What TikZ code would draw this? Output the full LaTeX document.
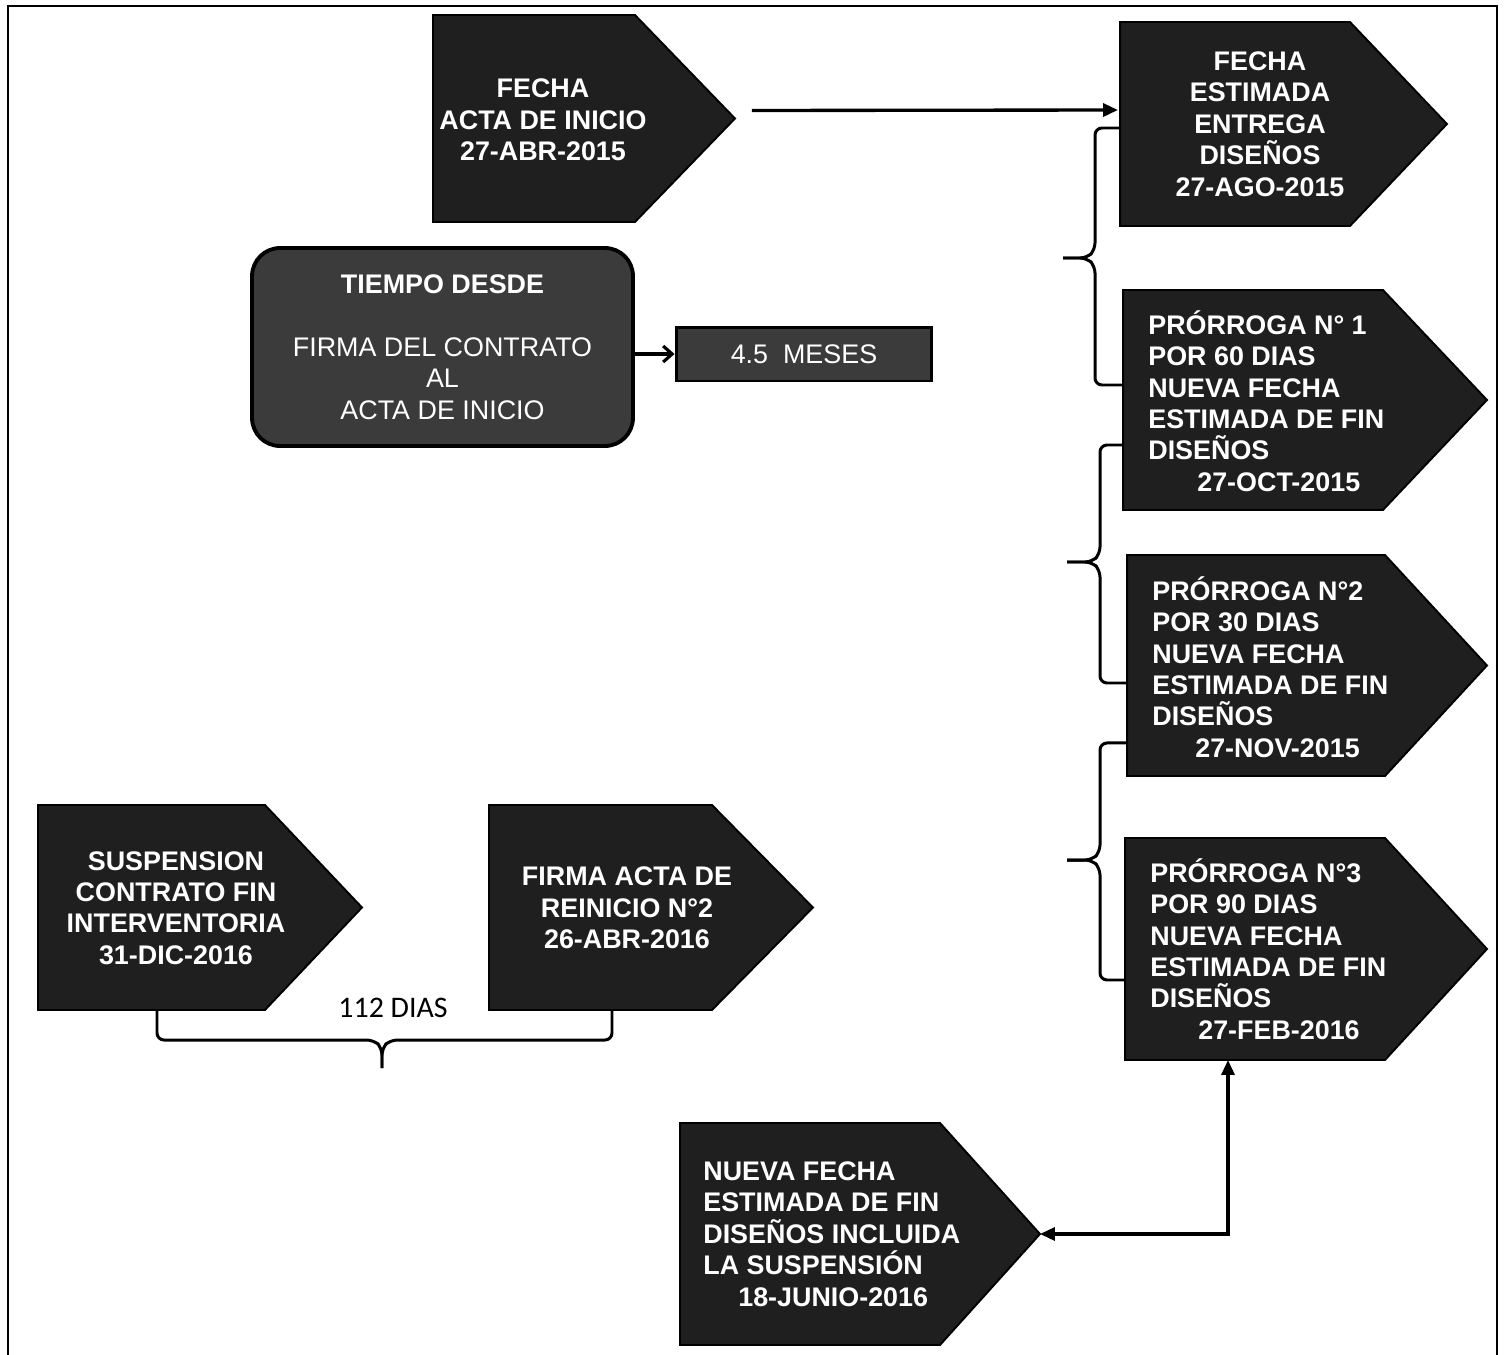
\documentclass[tikz,border=0pt]{standalone}
\usepackage{fontspec}
\setmainfont{Liberation Sans}
\newfontfamily\diasfont{Carlito}
\usepackage{tikz}
\usetikzlibrary{arrows.meta, calc}
\colorlet{cajanegra}{black!88}
\colorlet{cajagris}{black!77}

\tikzset{
  cuerpo/.style={rectangle, inner sep=0pt, outer sep=0pt},
  caja/.style={fill=cajanegra, draw=black, line width=1.1pt},
  texto/.style={text=white, align=center, inner sep=0pt, font=\bfseries\fontsize{15.3}{17.9}\selectfont},
  llave/.style={draw=black, line width=1.7pt, rounded corners=0.14cm},
  flecha/.style={draw=black, line width=1.9pt, -{Triangle[length=0.3cm,width=0.26cm]}},
}

\begin{document}
\begin{tikzpicture}[x=0.02cm, y=-0.02cm]
    \useasboundingbox (0,0) rectangle (1505,1355);
    \draw[line width=1.4pt] (8,1355) -- (8,6) -- (1497,6) -- (1497,1355);

    \node[cuerpo, minimum width=4.04cm, minimum height=4.14cm] (acta) at (534,118.5) {};
    \node[cuerpo, minimum width=4.6cm, minimum height=4.08cm] (entrega) at (1235,124) {};
    \node[cuerpo, minimum width=5.2cm, minimum height=4.4cm] (prorroga1) at (1253,400) {};
    \node[cuerpo, minimum width=5.16cm, minimum height=4.42cm] (prorroga2) at (1256,665.5) {};
    \node[cuerpo, minimum width=5.2cm, minimum height=4.44cm] (prorroga3) at (1255,949) {};
    \node[cuerpo, minimum width=4.54cm, minimum height=4.1cm] (suspension) at (151.5,907.5) {};
    \node[cuerpo, minimum width=4.46cm, minimum height=4.1cm] (reinicio) at (600.5,907.5) {};
    \node[cuerpo, minimum width=5.2cm, minimum height=4.44cm] (nueva) at (810,1234) {};

    \foreach \nombre/\punta in {acta/100, entrega/97, prorroga1/104, prorroga2/102, prorroga3/102, suspension/97, reinicio/101, nueva/100}
        \draw[caja] (\nombre.north west) -- (\nombre.north east) -- ($(\nombre.east)+(\punta,0)$) coordinate (\nombre-punta) -- (\nombre.south east) -- (\nombre.south west) -- cycle;

    \node[texto] (acta-txt) at (543,120) {FECHA\\ACTA DE INICIO\\27-ABR-2015};
    \node[texto] (entrega-txt) at (1260,124) {FECHA\\ESTIMADA\\ENTREGA\\DISEÑOS\\27-AGO-2015};
    \node[texto, align=left, anchor=west] (prorroga1-txt) at (1148,401) {PRÓRROGA N° 1\\POR 60 DIAS\\NUEVA FECHA\\ESTIMADA DE FIN\\DISEÑOS\\\hspace*{0.98cm}27-OCT-2015};
    \node[texto, align=left, anchor=west] (prorroga2-txt) at (1152,667) {PRÓRROGA N°2\\POR 30 DIAS\\NUEVA FECHA\\ESTIMADA DE FIN\\DISEÑOS\\\hspace*{0.86cm}27-NOV-2015};
    \node[texto, align=left, anchor=west] (prorroga3-txt) at (1150,949) {PRÓRROGA N°3\\POR 90 DIAS\\NUEVA FECHA\\ESTIMADA DE FIN\\DISEÑOS\\\hspace*{0.96cm}27-FEB-2016};
    \node[texto] (suspension-txt) at (176,908) {SUSPENSION\\CONTRATO FIN\\INTERVENTORIA\\31-DIC-2016};
    \node[texto] (reinicio-txt) at (627,908) {FIRMA ACTA DE\\REINICIO N°2\\26-ABR-2016};
    \node[texto, align=left, anchor=west] (nueva-txt) at (703,1234) {NUEVA FECHA\\ESTIMADA DE FIN\\DISEÑOS INCLUIDA\\LA SUSPENSIÓN\\\hspace*{0.7cm}18-JUNIO-2016};

    \node[fill=cajagris, draw=black, line width=2.2pt, rounded corners=0.56cm, minimum width=7.62cm, minimum height=3.96cm,
          text=white, align=center, font=\fontsize{15.3}{17.9}\selectfont] (tiempo) at (442.5,347)
          {\textbf{TIEMPO DESDE}\\[17.9pt]FIRMA DEL CONTRATO\\AL\\ACTA DE INICIO};
    \node[fill=cajagris, draw=black, line width=1.7pt, minimum width=5.12cm, minimum height=1.08cm,
          text=white, font=\fontsize{15.3}{17.9}\selectfont] (meses) at (804,354) {4.5\ \ MESES};

    \draw[line width=1.8pt, -{Straight Barb[length=0.18cm,width=0.32cm]}] (tiempo.east |- meses.west) -- (meses.west);
    \draw[flecha] ($(acta-punta)+(17,-8)$) -- ($(entrega.west)+(-2,-14)$);

    \draw[llave] ([yshift=-0.08cm]entrega.west) -| (1095,250) -- (1087,258) -- (1063,258);
    \draw[llave] ([yshift=0.3cm]prorroga1.west) -| (1095,266) -- (1087,258) -- (1063,258);
    \draw[llave] ([yshift=-0.9cm]prorroga1.west) -| (1100,554) -- (1092,562) -- (1067,562);
    \draw[llave] ([yshift=-0.35cm]prorroga2.west) -| (1100,570) -- (1092,562) -- (1067,562);
    \draw[llave] ([yshift=-1.55cm]prorroga2.west) -| (1100,852) -- (1092,860) -- (1067,860);
    \draw[llave] ([yshift=-0.62cm]prorroga3.west) -| (1100,868) -- (1092,860) -- (1067,860);

    \draw[llave] ([xshift=0.11cm]suspension.south) |- (374,1040) -- (382,1048) -- (382,1068);
    \draw[llave] ([xshift=0.23cm]reinicio.south) |- (390,1040) -- (382,1048) -- (382,1068);
    \node[font=\diasfont\fontsize{17}{20}\selectfont] (dias) at (393,1008) {112 DIAS};

    \draw[flecha, {Triangle[length=0.3cm,width=0.26cm]}-{Triangle[length=0.3cm,width=0.26cm]}] (nueva-punta) -| ([xshift=-0.54cm]prorroga3.south);
\end{tikzpicture}
\end{document}
